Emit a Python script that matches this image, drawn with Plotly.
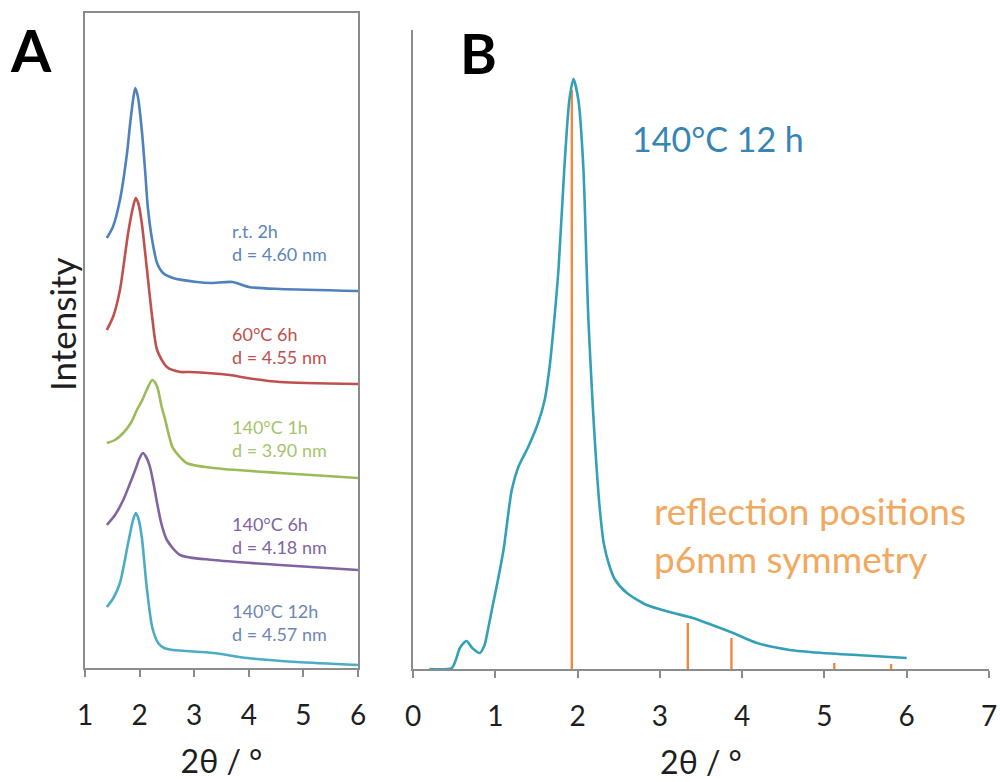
import plotly.graph_objects as go

# ---- Panel A: stacked SAXS patterns (offset intensities, a.u.) ----
a_labels = ["r.t. 2h", "60°C 6h", "140°C 1h", "140°C 6h", "140°C 12h"]
a_d_values = ["4.60", "4.55", "3.90", "4.18", "4.57"]
a_colors = ["#4f81bd", "#c0504d", "#9bbb59", "#8064a2", "#4bacc6"]
a_text_colors = ["#5a86c0", "#c0504d", "#a6c46a", "#8064a2", "#6f86b9"]

rt2h_x = [1.40, 1.51, 1.64, 1.77, 1.82, 1.88, 1.92, 1.97, 2.04, 2.10, 2.15, 2.23, 2.32, 2.43, 2.61,
          3.05, 3.30, 3.70, 4.00, 4.57, 6.00]
rt2h_y = [430, 441, 468, 515, 541, 568, 580, 571, 538, 498, 461, 428, 405, 395, 390,
          386, 385, 386, 381, 379, 377]

c60_6h_x = [1.40, 1.52, 1.64, 1.79, 1.88, 1.93, 1.98, 2.04, 2.13, 2.23, 2.32, 2.50, 2.75, 2.92,
            3.65, 3.97, 4.57, 6.00]
c60_6h_y = [338, 352, 378, 435, 461, 470, 464, 445, 401, 351, 318, 301, 296, 296,
            293, 290, 286, 284]

c140_1h_x = [1.40, 1.55, 1.70, 1.85, 1.95, 2.05, 2.13, 2.23, 2.29, 2.34, 2.40, 2.47, 2.54, 2.61,
             2.86, 3.35, 4.57, 6.00]
c140_1h_y = [225, 228, 235, 246, 258, 268, 278, 288, 285, 278, 262, 248, 232, 220,
             205, 200, 195, 190]

c140_6h_x = [1.40, 1.55, 1.70, 1.82, 1.92, 2.00, 2.06, 2.12, 2.19, 2.26, 2.32, 2.40, 2.50, 2.74,
             3.35, 4.57, 6.00]
c140_6h_y = [143, 153, 168, 184, 198, 210, 215, 211, 201, 183, 165, 144, 128, 113,
             108, 103, 98]

c140_12h_x = [1.40, 1.52, 1.64, 1.79, 1.88, 1.93, 1.98, 2.04, 2.13, 2.23, 2.34, 2.45, 2.61,
              3.35, 3.97, 4.88, 6.00]
c140_12h_y = [61, 70, 85, 125, 148, 155, 149, 131, 81, 41, 25, 20, 18,
              15, 10, 6, 3]

a_series = [
    (rt2h_x, rt2h_y),
    (c60_6h_x, c60_6h_y),
    (c140_1h_x, c140_1h_y),
    (c140_6h_x, c140_6h_y),
    (c140_12h_x, c140_12h_y),
]

# ---- Panel B: 140 °C 12 h pattern with p6mm reflection positions ----
b_x = [0.20, 0.47, 0.52, 0.57, 0.65, 0.72, 0.81, 0.87, 0.91, 0.97, 1.02, 1.10, 1.20, 1.28,
       1.40, 1.52, 1.60, 1.66, 1.72, 1.77, 1.84, 1.90, 1.95, 2.01, 2.07, 2.11, 2.13, 2.18,
       2.22, 2.27, 2.32, 2.38, 2.45, 2.60, 2.84, 3.12, 3.40, 3.57, 3.89, 4.18, 4.58, 4.98,
       5.59, 6.00]
b_y = [0, 1, 9, 21, 28, 21, 16, 24, 39, 64, 84, 119, 179, 202,
       222, 246, 269, 302, 352, 402, 502, 569, 590, 569, 502, 402, 352, 270,
       215, 160, 125, 105, 90, 76, 64, 57, 51, 46, 36, 26, 19, 16,
       13, 11]

reflection_pos = [1.93, 3.34, 3.87, 5.12, 5.81]
reflection_height = [579, 46, 31, 6, 5]

a_ticks = [1, 2, 3, 4, 5, 6]
b_ticks = [0, 1, 2, 3, 4, 5, 6, 7]

FONT = "Lato"
AXIS_GREY = "#8c8c8c"
TEXT_DARK = "#1e1e1e"
W, H = 1000, 782

fig = go.Figure()

for (xs, ys), col, name in zip(a_series, a_colors, a_labels):
    fig.add_trace(go.Scatter(x=xs, y=ys, mode="lines", name=name,
                             line=dict(color=col, width=2.6, shape="spline", smoothing=0.7),
                             xaxis="x", yaxis="y", showlegend=False))

# reflection sticks
rx, ry = [], []
for p, h in zip(reflection_pos, reflection_height):
    rx += [p, p, None]
    ry += [0, h, None]
fig.add_trace(go.Scatter(x=rx, y=ry, mode="lines", name="p6mm",
                         line=dict(color="#f0883e", width=2.4),
                         xaxis="x2", yaxis="y2", showlegend=False))

fig.add_trace(go.Scatter(x=b_x, y=b_y, mode="lines", name="140°C 12 h",
                         line=dict(color="#33a0b8", width=2.6, shape="spline", smoothing=0.7),
                         xaxis="x2", yaxis="y2", showlegend=False))

annotations = []
label_mid = [426, 323, 230, 133, 46]
for lab, d, col, ym in zip(a_labels, a_d_values, a_text_colors, label_mid):
    annotations.append(dict(x=3.66, y=ym, xref="x", yref="y", xanchor="left", yanchor="middle",
                            align="left", showarrow=False,
                            text=f"{lab}<br>d = {d} nm",
                            font=dict(family=FONT, size=18, color=col)))

annotations.append(dict(x=2.64, y=531, xref="x2", yref="y2", xanchor="left", yanchor="middle",
                        showarrow=False, text="140°C 12 h",
                        font=dict(family=FONT, size=34, color="#3585b5")))
annotations.append(dict(x=2.90, y=135, xref="x2", yref="y2", xanchor="left", yanchor="middle",
                        align="left", showarrow=False,
                        text="reflection positions<br>p6mm symmetry",
                        font=dict(family=FONT, size=37, color="#f2a85e")))

annotations.append(dict(x=62 / W, y=1 - 325 / H, xref="paper", yref="paper",
                        xanchor="center", yanchor="middle", showarrow=False, textangle=-90,
                        text="Intensity", font=dict(family=FONT, size=35, color=TEXT_DARK)))

annotations.append(dict(x=31 / W, y=1 - 50 / H, xref="paper", yref="paper",
                        xanchor="center", yanchor="middle", showarrow=False, text="<b>A</b>",
                        font=dict(family=FONT, size=58, color="#000000")))
annotations.append(dict(x=478 / W, y=1 - 52 / H, xref="paper", yref="paper",
                        xanchor="center", yanchor="middle", showarrow=False, text="<b>B</b>",
                        font=dict(family=FONT, size=56, color="#000000")))

common_x = dict(showgrid=False, zeroline=False, showline=True, linecolor=AXIS_GREY, linewidth=2,
                ticks="outside", ticklen=7, tickwidth=2, tickcolor=AXIS_GREY,
                tickfont=dict(family=FONT, size=28, color=TEXT_DARK),
                ticklabelstandoff=14, automargin=False)

fig.update_layout(
    width=W, height=H,
    margin=dict(l=0, r=0, t=0, b=0),
    paper_bgcolor="white", plot_bgcolor="white",
    xaxis=dict(domain=[0.085, 0.358], range=[1, 6], tickvals=a_ticks, mirror=True,
               title=dict(text="2θ / °", font=dict(family=FONT, size=32, color=TEXT_DARK), standoff=21),
               anchor="y", **common_x),
    yaxis=dict(domain=[1 - 668 / H, 1 - 13 / H], range=[0, 655], showticklabels=False,
               ticks="", showgrid=False, zeroline=False, showline=True, mirror=True,
               linecolor=AXIS_GREY, linewidth=2, anchor="x", automargin=False),
    xaxis2=dict(domain=[0.413, 0.989], range=[0, 7], tickvals=b_ticks, anchor="y2",
                title=dict(text="2θ / °", font=dict(family=FONT, size=32, color=TEXT_DARK), standoff=21),
                **common_x),
    yaxis2=dict(domain=[1 - 669 / H, 1 - 30 / H], range=[0, 639], showticklabels=False,
                ticks="", showgrid=False, zeroline=False, showline=True, mirror=False,
                linecolor=AXIS_GREY, linewidth=2, anchor="x2", automargin=False),
    annotations=annotations,
)

fig.write_html("out.html")
